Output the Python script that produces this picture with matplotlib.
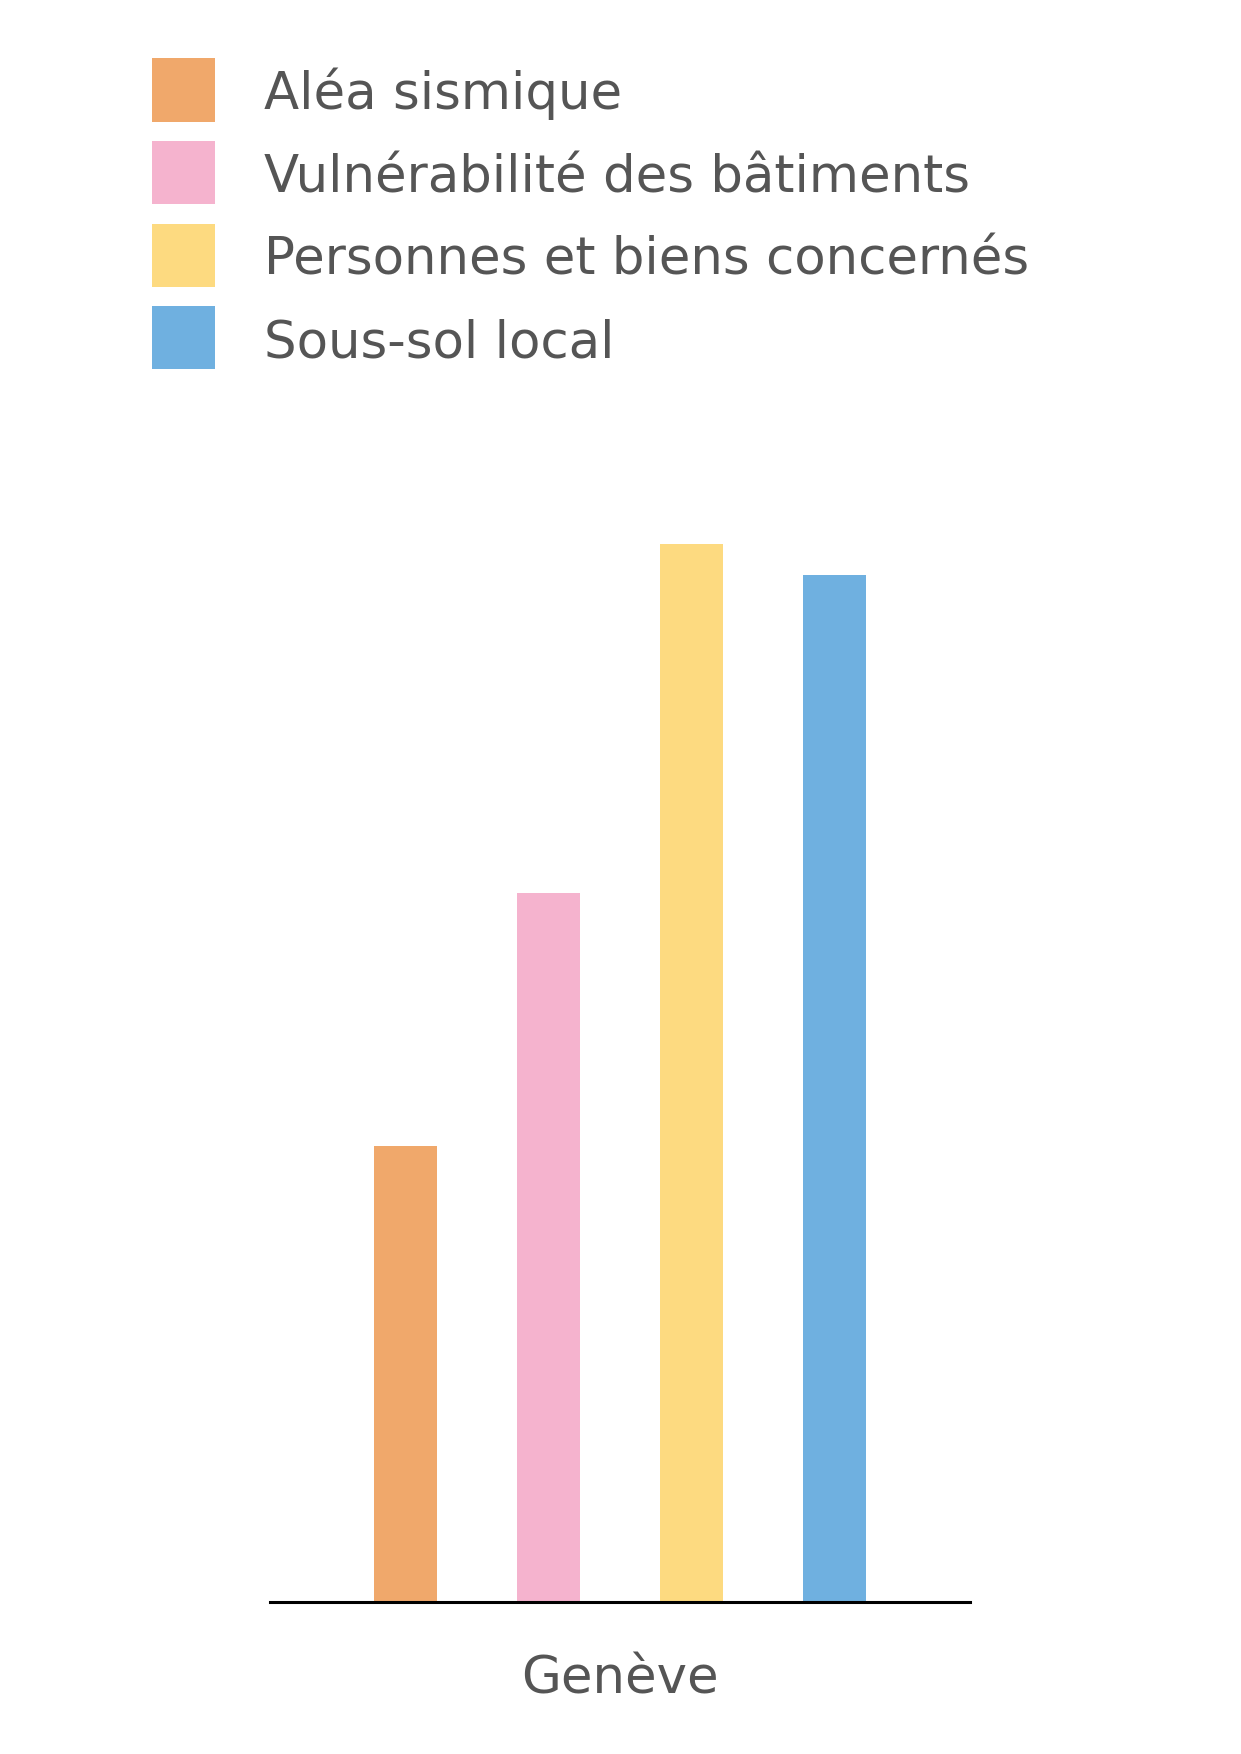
import matplotlib.pyplot as plt
from matplotlib.patches import Rectangle

# Data
city = ["Genève"]
series = ["Aléa sismique", "Vulnérabilité des bâtiments",
          "Personnes et biens concernés", "Sous-sol local"]
values = [4.31, 6.70, 10.0, 9.71]
colors = ["#F0A86B", "#F5B3CE", "#FDDA80", "#6FB0E0"]

W, H = 1241, 1754
fig = plt.figure(figsize=(W/100, H/100), dpi=100)
ax = fig.add_axes([270/W, (H-1601.5)/H, 700/W, 1057.5/H])

step = 143.3/700
width = 63/700
for i, (name, v, c) in enumerate(zip(series, values, colors)):
    ax.bar(0 + (i-1.5)*step, v, width=width, color=c, label=name)

ax.set_xlim(-0.5, 0.5)
ax.set_ylim(0, 10)
for s in ["top", "left", "right"]:
    ax.spines[s].set_visible(False)
ax.spines["bottom"].set_linewidth(2.2)
ax.spines["bottom"].set_color("black")
ax.set_yticks([])
ax.set_xticks([0], city)
ax.tick_params(axis="x", length=0, pad=38.5, labelsize=37, labelcolor="#555555")

# legend drawn by hand
for i, (name, c) in enumerate(zip(series, colors)):
    top = 58.5 + i*82.6
    fig.add_artist(Rectangle((151.5/W, (H-top-63)/H), 63/W, 63/H,
                             transform=fig.transFigure, color=c, lw=0))
    fig.text(264.5/W, (H-top-51)/H, name, fontsize=37, color="#555555",
             va="baseline", ha="left")

fig.savefig("out.png", dpi=100)
